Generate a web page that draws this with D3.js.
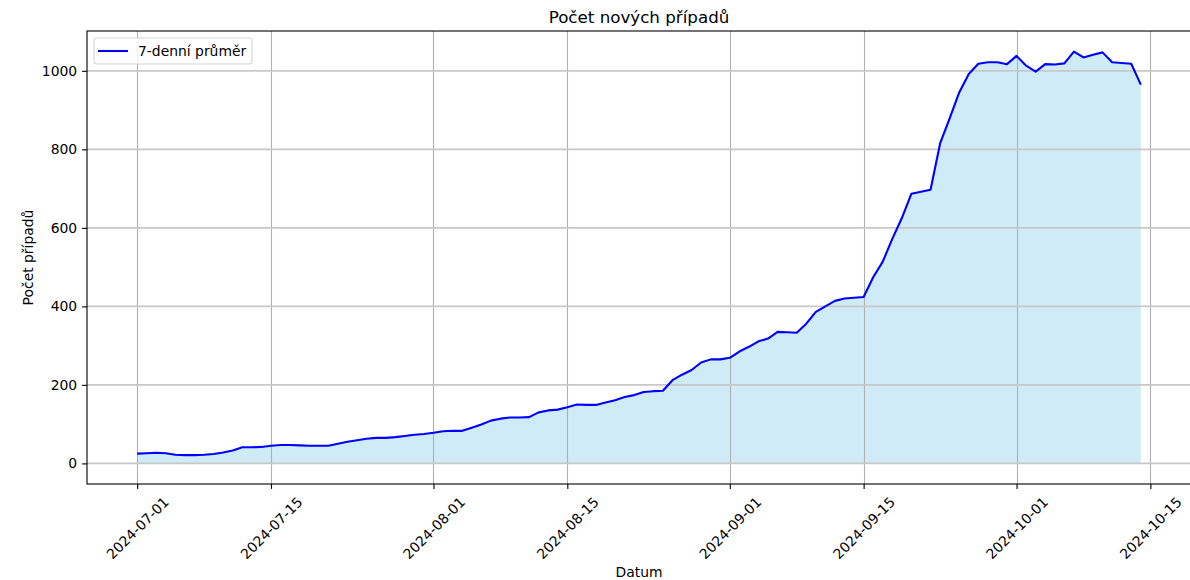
<!DOCTYPE html>
<html>
<head>
<meta charset="utf-8">
<script src="https://cdn.jsdelivr.net/npm/d3@7"></script>
<style>
  body { margin: 0; background: #fff; }
  svg { display: block; font-family: "DejaVu Sans", sans-serif; }
</style>
</head>
<body>
<svg width="1190" height="580"></svg>
<script>
'use strict'

// first day of the series, one value per day after that
var startDay = "2024-07-01";

// 7-day rolling average of new cases
var avgValues = [
  25, 26, 27, 26, 22, 21, 21, 22, 24, 28,
  33, 41, 41, 42, 45, 47, 47, 46, 45, 45,
  45, 50, 55, 59, 63, 65, 65, 67, 70, 73,
  75, 78, 82, 83, 83, 91, 99, 109, 114, 117,
  117, 118, 130, 135, 137, 143, 150, 149, 149, 155,
  161, 169, 174, 182, 184, 185, 212, 226, 238, 257,
  265, 265, 269, 285, 297, 311, 318, 335, 334, 333,
  356, 386, 400, 414, 420, 422, 424, 474, 514, 572,
  625, 687, 692, 697, 815, 879, 945, 992, 1018, 1022,
  1022, 1017, 1038, 1013, 998, 1017, 1016, 1019, 1049, 1034,
  1041, 1047, 1022, 1020, 1018, 965
];

var xTickLabels = ["2024-07-01", "2024-07-15", "2024-08-01", "2024-08-15",
  "2024-09-01", "2024-09-15", "2024-10-01", "2024-10-15"];
var yTickValues = [0, 200, 400, 600, 800, 1000];

var titleText = "Počet nových případů";
var xLabelText = "Datum";
var yLabelText = "Počet případů";
var legendText = "7-denní průměr";

var parseDay = d3.utcParse("%Y-%m-%d");
var dayMs = 24 * 3600 * 1000;

var data = avgValues.map(function(v, i) {
  return { date: new Date(parseDay(startDay).getTime() + i * dayMs), value: v };
});

var svg = d3.select("svg"),
  margin = { top: 31, right: 0, bottom: 96, left: 87 },
  width = 1191 - margin.left,
  height = +svg.attr("height") - margin.top - margin.bottom;

// matplotlib style 5% padding around the data
var xExt = d3.extent(data, function(d) { return d.date; });
var xPad = (xExt[1] - xExt[0]) * 0.05;
var yMax = d3.max(data, function(d) { return d.value; });
var yPad = yMax * 0.05;

var x = d3.scaleUtc()
  .domain([new Date(xExt[0].getTime() - xPad), new Date(xExt[1].getTime() + xPad)])
  .range([0, width]);
var y = d3.scaleLinear()
  .domain([-yPad, yMax + yPad])
  .range([height, 0]);

var g = svg.append("g")
  .attr("transform", "translate(" + margin.left + "," + margin.top + ")");

var area = d3.area()
  .x(function(d) { return x(d.date); })
  .y0(y(0))
  .y1(function(d) { return y(d.value); });

var line = d3.line()
  .x(function(d) { return x(d.date); })
  .y(function(d) { return y(d.value); });

// fill under the curve (skyblue, alpha .4)
g.append("path")
  .datum(data)
  .attr("d", area)
  .attr("fill", "#87ceeb")
  .attr("fill-opacity", 0.4);

var xTickDates = xTickLabels.map(parseDay);

// grid
g.append("g").selectAll("line")
  .data(xTickDates)
  .enter().append("line")
  .attr("x1", function(d) { return Math.round(x(d)) + 0.5; })
  .attr("x2", function(d) { return Math.round(x(d)) + 0.5; })
  .attr("y1", 0)
  .attr("y2", height)
  .attr("stroke", "#b0b0b0")
  .attr("stroke-width", 1.1);

g.append("g").selectAll("line")
  .data(yTickValues)
  .enter().append("line")
  .attr("x1", 0)
  .attr("x2", width)
  .attr("y1", function(d) { return y(d); })
  .attr("y2", function(d) { return y(d); })
  .attr("stroke", "#c8c8c8")
  .attr("stroke-width", 1.6);

g.append("path")
  .datum(data)
  .attr("d", line)
  .attr("fill", "none")
  .attr("stroke", "#0000ff")
  .attr("stroke-width", 2.1)
  .attr("stroke-linejoin", "round");

// axes
var xAxis = d3.axisBottom(x)
  .tickValues(xTickDates)
  .tickSize(4.9)
  .tickFormat(d3.utcFormat("%Y-%m-%d"));
var yAxis = d3.axisLeft(y)
  .tickValues(yTickValues)
  .tickSize(4.9)
  .tickPadding(4.9)
  .tickFormat(d3.format("d"));

var gx = g.append("g")
  .attr("transform", "translate(0," + height + ")")
  .call(xAxis)
  .attr("font-family", null)
  .attr("font-size", null);
gx.select(".domain").remove();
gx.selectAll("line").attr("stroke", "#000").attr("stroke-width", 1.1);
gx.selectAll("text")
  .attr("font-size", 13.9)
  .attr("fill", "#000")
  .attr("text-anchor", "middle")
  .attr("dy", "0.35em")
  .attr("y", 0)
  .attr("transform", "translate(0,44) rotate(-45)");

var gy = g.append("g").call(yAxis)
  .attr("font-family", null)
  .attr("font-size", null);
gy.select(".domain").remove();
gy.selectAll("line").attr("stroke", "#000").attr("stroke-width", 1.1);
gy.selectAll("text").attr("font-size", 13.9).attr("fill", "#000");

// frame
g.append("rect")
  .attr("x", 0)
  .attr("y", 0)
  .attr("width", width)
  .attr("height", height)
  .attr("fill", "none")
  .attr("stroke", "#000")
  .attr("stroke-width", 1.1);

// texts
svg.append("text")
  .attr("x", margin.left + width / 2)
  .attr("y", 23)
  .attr("text-anchor", "middle")
  .attr("font-size", 16.7)
  .text(titleText);

svg.append("text")
  .attr("x", margin.left + width / 2)
  .attr("y", 577)
  .attr("text-anchor", "middle")
  .attr("font-size", 13.9)
  .text(xLabelText);

svg.append("text")
  .attr("transform", "translate(33," + (margin.top + height / 2) + ") rotate(-90)")
  .attr("text-anchor", "middle")
  .attr("font-size", 13.9)
  .text(yLabelText);

// legend
var legend = g.append("g").attr("transform", "translate(7,7)");
legend.append("rect")
  .attr("width", 158)
  .attr("height", 26)
  .attr("rx", 3)
  .attr("fill", "#fff")
  .attr("fill-opacity", 0.8)
  .attr("stroke", "#d6d6d6")
  .attr("stroke-width", 1.1);
legend.append("line")
  .attr("x1", 4)
  .attr("x2", 34)
  .attr("y1", 13)
  .attr("y2", 13)
  .attr("stroke", "#0000ff")
  .attr("stroke-width", 2.1);
legend.append("text")
  .attr("x", 44)
  .attr("y", 18)
  .attr("font-size", 13.9)
  .text(legendText);
</script>
</body>
</html>
